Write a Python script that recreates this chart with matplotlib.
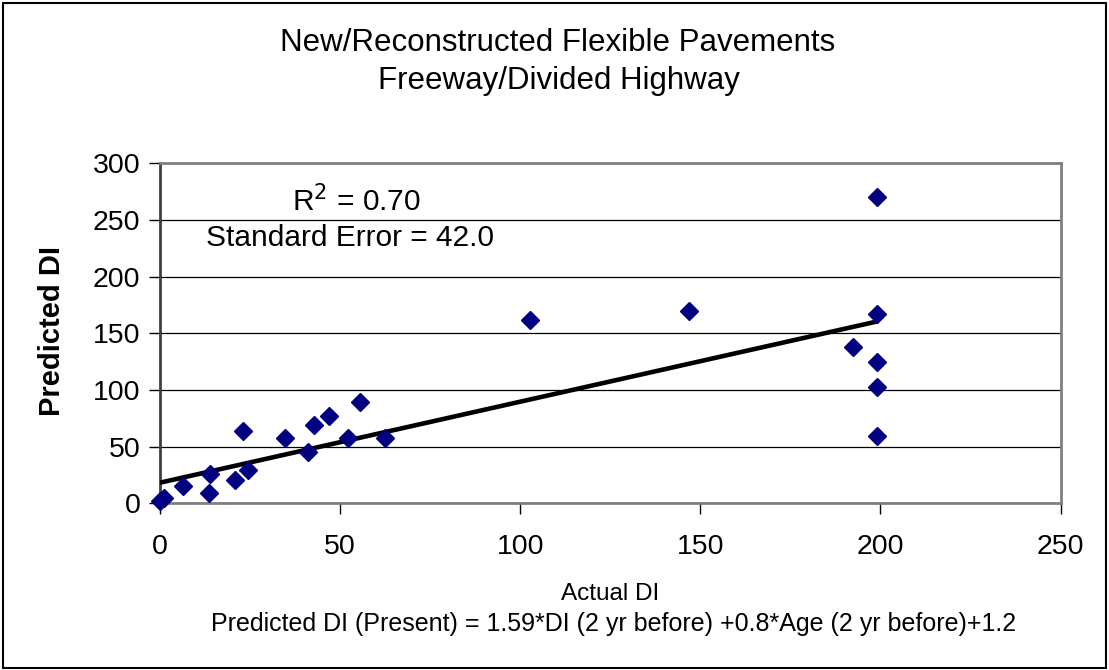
import matplotlib
matplotlib.use("Agg")
import matplotlib.pyplot as plt
from matplotlib.patches import Rectangle

# Data
actual_di = [0, 1, 6.5, 13.6, 13.9, 20.8, 24.3, 23.0, 34.7, 41.0, 42.8, 46.8, 52.3, 55.6,
             62.5, 102.8, 146.8, 199.1, 199.1, 192.4, 199.1, 199.1, 199.1]
predicted_di = [2, 5, 15.3, 8.8, 25.9, 20.6, 29.5, 63.4, 58.0, 45.1, 68.7, 76.7, 58.0, 89.0,
                58.0, 161.6, 169.6, 270.8, 167.2, 138.0, 124.4, 102.6, 59.8]
trend_x = [0, 199.3]
trend_y = [18.2, 160.7]
x_ticks = [0, 50, 100, 150, 200, 250]
y_ticks = [0, 50, 100, 150, 200, 250, 300]

W, H = 1109, 670
plt.rcParams['font.family'] = ['Liberation Sans', 'DejaVu Sans']
fig = plt.figure(figsize=(W / 100, H / 100), dpi=100)

def fx(px):
    return px / W

def fy(py):
    return 1 - py / H

left, right, top, bottom = 160, 1060.5, 163.5, 503.3
ax = fig.add_axes([fx(left), fy(bottom), (right - left) / W, (bottom - top) / H])

ax.set_xlim(0, 250)
ax.set_ylim(0, 300)
ax.set_xticks(x_ticks)
ax.set_yticks(y_ticks)
ax.yaxis.grid(True, color='black', linewidth=0.9)
ax.set_axisbelow(True)

for side in ['top', 'right', 'bottom']:
    ax.spines[side].set_color('#808080')
    ax.spines[side].set_linewidth(2)
ax.spines['left'].set_color('#404040')
ax.spines['left'].set_linewidth(2)

ax.tick_params(axis='both', direction='out', length=8, width=1, color='black',
               labelsize=20.5, pad=6)
ax.tick_params(axis='x', pad=14)

ax.plot(trend_x, trend_y, color='black', linewidth=3.3, solid_capstyle='butt', zorder=3)
ax.plot(actual_di, predicted_di, linestyle='none', marker='D', markersize=9.5,
        color='#000080', markeredgecolor='#000080', zorder=4, clip_on=False)

fig.text(fx(558), fy(43), 'New/Reconstructed Flexible Pavements', ha='center', va='center', fontsize=22.5)
fig.text(fx(559), fy(81), 'Freeway/Divided Highway', ha='center', va='center', fontsize=22.5)

fig.text(fx(356), fy(201), r'R$^2$ = 0.70', ha='center', va='center', fontsize=21.5)
fig.text(fx(350), fy(238), 'Standard Error = 42.0', ha='center', va='center', fontsize=21.5)

fig.text(fx(52), fy(331), 'Predicted DI', rotation=90, ha='center', va='center',
         fontsize=21, fontweight='bold')
fig.text(fx(610), fy(594), 'Actual DI', ha='center', va='center', fontsize=17.5)
fig.text(fx(614), fy(624), 'Predicted DI (Present) = 1.59*DI (2 yr before) +0.8*Age (2 yr before)+1.2',
         ha='center', va='center', fontsize=18)

fig.patches.append(Rectangle((fx(3), fy(668)), fx(1103), (665) / H, transform=fig.transFigure,
                             fill=False, edgecolor='black', linewidth=1.5))

fig.savefig('out.png', dpi=100)
